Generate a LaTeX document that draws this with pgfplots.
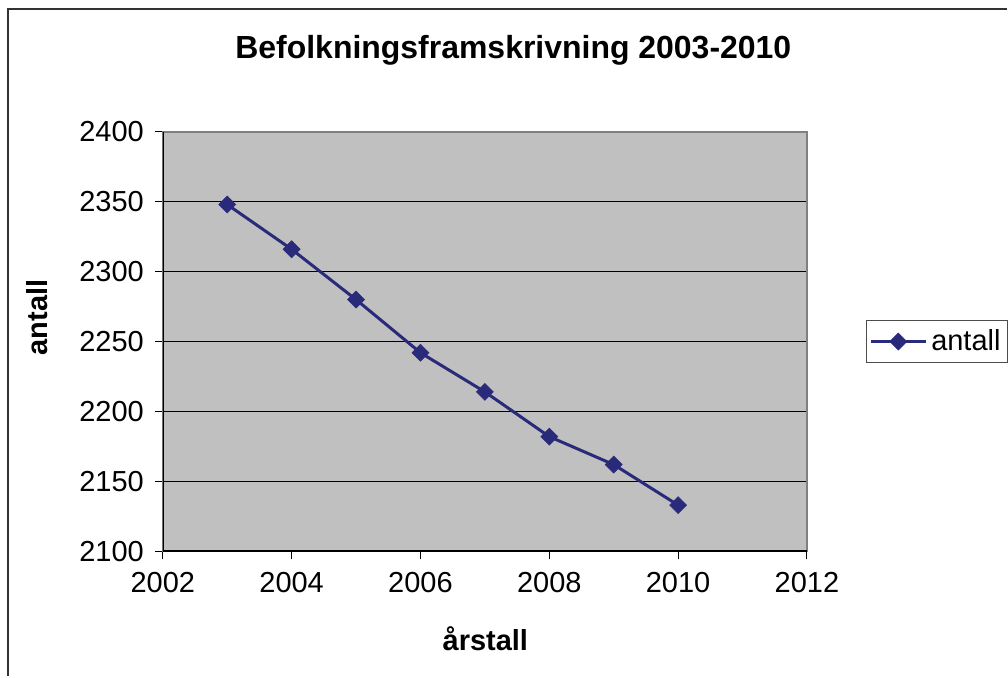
\documentclass[border=0pt]{standalone}
\usepackage{pgfplots}
\pgfplotsset{compat=1.18}
\usepackage{fontspec}
\setmainfont{Liberation Sans}
\definecolor{navyline}{RGB}{42,42,122}
\definecolor{plotgray}{RGB}{192,192,192}
\begin{document}
\begin{tikzpicture}[x=0.5bp,y=-0.5bp]
% page frame, in pixel coordinates of the reference (origin top left)
\path (0,0) rectangle (1008,677);
\draw[line width=1bp, black!80] (8,677) -- (8,9) -- (1008,9);
\coordinate (plotorigin) at (163,552);

\begin{axis}[
    at={(plotorigin)}, anchor=south west,
    scale only axis, width=322.5bp, height=210bp,
    xmin=2002, xmax=2012,
    ymin=2100, ymax=2400,
    xtick={2002,2004,...,2012},
    ytick={2100,2150,...,2400},
    /pgf/number format/1000 sep={},
    /pgf/number format/assume math mode=true,
    tick label style={font=\fontsize{14.5bp}{17bp}\selectfont},
    xticklabel style={yshift=-3bp},
    yticklabel style={xshift=-2bp},
    tick pos=left, tick align=outside,
    major tick length=4bp,
    major tick style={black, line width=0.5bp},
    ymajorgrids,
    grid style={black, line width=0.5bp},
    axis background/.style={fill=plotgray},
    axis line style={black!50, line width=1bp},
    legend style={at={(1.0915,0.5)}, anchor=west,
        draw=black!70, line width=0.5bp,
        font=\fontsize{14.5bp}{17bp}\selectfont,
        inner xsep=1.5bp, inner ysep=2.5bp},
    legend cell align=left,
    legend image code/.code={%
        \draw[#1, mark repeat=2, mark phase=2]
        plot coordinates {(0bp,0bp) (13.75bp,0bp) (27.5bp,0bp)};},
]
\addplot[color=navyline, line width=1.5bp,
    mark=square*, mark size=3bp,
    mark options={rotate=45, fill=navyline, draw=navyline, line width=0.3bp}]
    coordinates {
    (2003,2348)(2004,2316)(2005,2280)(2006,2242)
    (2007,2214)(2008,2182)(2009,2162)(2010,2133)
    };
\addlegendentry{antall}
\draw[black, line width=1bp] (rel axis cs:0,1) -- (rel axis cs:0,0) -- (rel axis cs:1,0);
\end{axis}

\node[font=\bfseries\fontsize{16bp}{19bp}\selectfont] at (514,50) {Befolkningsframskrivning 2003-2010};
\node[font=\bfseries\fontsize{14.5bp}{17bp}\selectfont] at (486,640) {årstall};
\node[font=\bfseries\fontsize{14.5bp}{17bp}\selectfont, rotate=90] at (37,318) {antall};
\end{tikzpicture}
\end{document}
